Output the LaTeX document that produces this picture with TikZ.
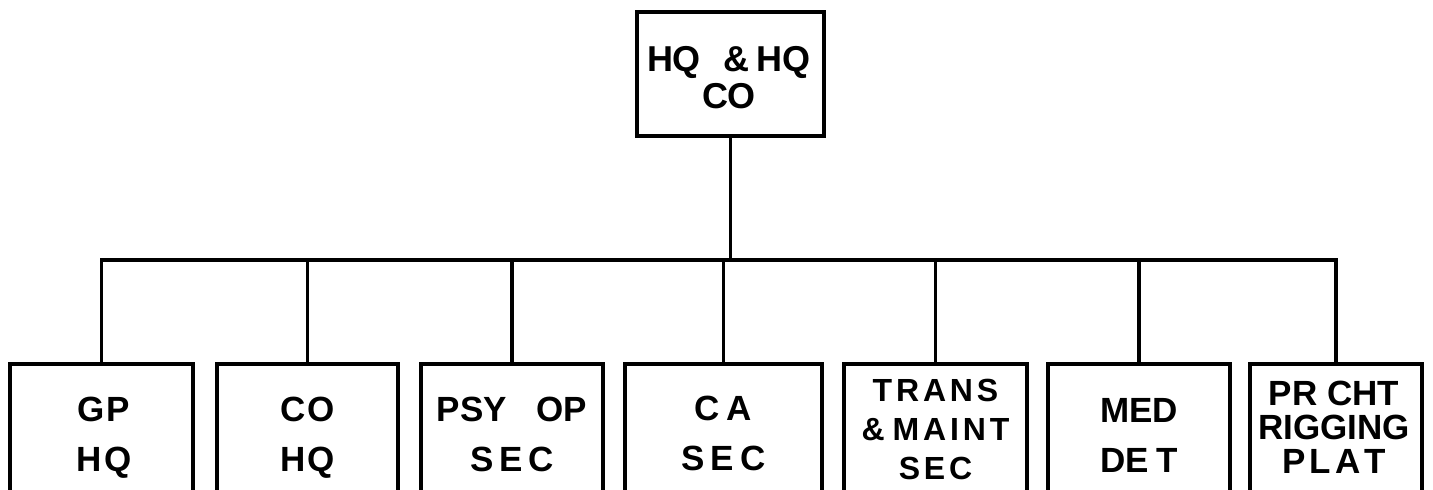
\documentclass[tikz,border=0pt]{standalone}
\usepackage{fontspec}
\setmainfont{Liberation Sans}
\newfontfamily\spacedfont[LetterSpace=12]{Liberation Sans}
\begin{document}
\begin{tikzpicture}[x=1pt,y=-1pt,
  frame/.style={draw,line width=3.4pt,rectangle,inner sep=0pt,minimum height=136pt},
  label/.style={inner sep=0pt,align=center,font=\bfseries\fontsize{35}{50}\selectfont},
  link/.style={line width=3.4pt}]
\useasboundingbox (0,0) rectangle (1433,490);
\clip (0,0) rectangle (1433,490);
\fill[white] (0,0) rectangle (1433,490);
% top unit
\node[frame,minimum width=187pt,minimum height=124pt] (top) at (730.5,74) {};
\node[label,font=\bfseries\fontsize{36}{37}\selectfont] (topt) at (729,78) {HQ\hspace{22pt}\&\hspace{8pt}HQ\\CO};
% subordinate frames
\node[frame,minimum width=183pt] (g1) at (101.5,432) {};
\node[frame,minimum width=181pt] (g2) at (307.5,432) {};
\node[frame,minimum width=182pt] (g3) at (512,432) {};
\node[frame,minimum width=197pt] (g4) at (723.5,432) {};
\node[frame,minimum width=183pt] (g5) at (935.5,432) {};
\node[frame,minimum width=182pt] (g6) at (1139,432) {};
\node[frame,minimum width=172pt] (g7) at (1336,432) {};
% labels
\node[label] (g1t) at (104,438) {G\kern2pt P\\H\kern2pt Q};
\node[label] (g2t) at (307.5,438) {C\kern2pt O\\H\kern2pt Q};
\node[label] (g3t) at (512,434) {PSY\hspace{30pt}OP\\S\,E\,C};
\node[label] (g4t) at (723.5,433) {C\kern7pt A\\S\,E\,C};
\node[label,font=\spacedfont\bfseries\fontsize{32}{39}\selectfont] (g5t) at (935.5,429) {TRANS\\\&\hspace{8pt}MAINT\\SEC};
\node[label] (g6t) at (1139,435.5) {MED\\DE\kern7pt T};
\node[label,font=\bfseries\fontsize{35}{34}\selectfont] (g7t) at (1334,427.5) {PR\kern10pt CHT\\RIGGING\\P\kern4pt L\kern4pt A\kern4pt T};
% connectors
\coordinate (bus) at (0,260);
\draw[link] (top.south) -- (top.south |- bus);
\draw[link] (g1.north) -- (g1.north |- bus) -- (g7.north |- bus) -- (g7.north);
\foreach \n in {g2,g3,g4,g5,g6} \draw[link] (\n.north) -- (\n.north |- bus);
\end{tikzpicture}
\end{document}
